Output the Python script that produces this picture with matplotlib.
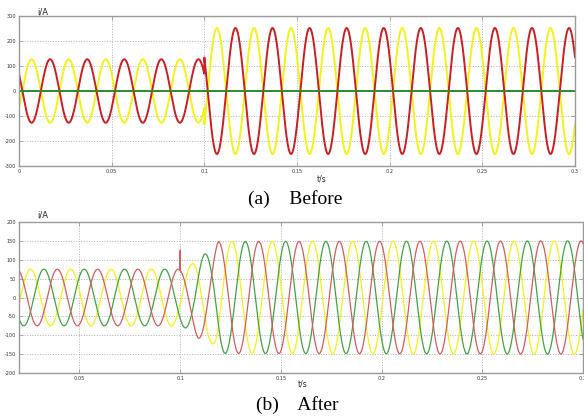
import numpy as np
import matplotlib
matplotlib.use("Agg")
import matplotlib.pyplot as plt

# grid frequency and sampling
f_grid = 50.0
n_samples = 6000

# (a) before: single-phase unbalance, two lines in antiphase, third one idle
before_t_range = [0.0, 0.3]
before_step_t = 0.1           # load change instant (s)
before_amp = [127.0, 252.0]   # amplitude before / after the step (A)
before_min_t = 0.0068         # time of first minimum of the red current (s)
before_yticks = [-300, -200, -100, 0, 100, 200, 300]
before_xticks = [0, 0.05, 0.1, 0.15, 0.2, 0.25, 0.3]
before_xlabels = ["0", "0.05", "0.1", "0.15", "0.2", "0.25", "0.3"]

# (b) after: balanced three-phase currents
after_t_range = [0.02, 0.3]
after_peak_t = 0.0057                  # first peak of the yellow phase (s)
after_shift_deg = [0, 120, 240]        # yellow, green, red
after_env_t = [0.02, 0.1, 0.1058, 0.1089, 0.1114, 0.1157, 0.119, 0.3]
after_env_amp = [75, 75, 88, 107, 114, 120, 148, 150]
after_spike_t = 0.1
after_spike_val = 125.0
after_yticks = [-200, -150, -100, -50, 0, 50, 100, 150, 200]
after_xticks = [0.05, 0.1, 0.15, 0.2, 0.25, 0.3]
after_xlabels = ["0.05", "0.1", "0.15", "0.2", "0.25", "0.3"]

c_yellow = "#f2f21a"
c_red_a = "#c81e24"
c_green_a = "#2b8a2b"
c_red_b = "#d25c60"
c_green_b = "#44a044"
c_box = "#9a9a9a"
c_grid = "#b0b0b0"


def style_axes(ax, xticks, xlabels, yticks):
    ax.set_xticks(xticks)
    ax.set_xticklabels(xlabels)
    ax.set_yticks(yticks)
    ax.set_yticklabels([str(v) for v in yticks])
    ax.tick_params(direction="in", length=3, width=0.6, color=c_box,
                   labelsize=3.6, labelcolor="#333333", pad=2,
                   top=True, right=True)
    for s in ax.spines.values():
        s.set_color(c_box)
        s.set_linewidth(1.0)
    ax.grid(True, linestyle=":", color=c_grid, linewidth=0.7)
    ax.set_axisbelow(True)


fig = plt.figure(figsize=(5.84, 4.17), dpi=100)

# ---- (a) before ----
ax1 = fig.add_axes([19 / 584, 1 - 166 / 417, 556 / 584, 150 / 417])
t1 = np.linspace(before_t_range[0], before_t_range[1], n_samples)
a1 = np.where(t1 < before_step_t, before_amp[0], before_amp[1])
w1 = np.cos(2 * np.pi * f_grid * (t1 - before_min_t))
ax1.plot(t1, a1 * w1, color=c_yellow, lw=1.4)
ax1.plot(t1, -a1 * w1, color=c_red_a, lw=1.4)
ax1.plot(t1, np.zeros_like(t1), color=c_green_a, lw=1.4)
ax1.set_xlim(before_t_range)
ax1.set_ylim(-300, 300)
style_axes(ax1, before_xticks, before_xlabels, before_yticks)

# ---- (b) after ----
ax2 = fig.add_axes([19 / 584, 1 - 373 / 417, 564 / 584, 151 / 417])
t2 = np.linspace(after_t_range[0], after_t_range[1], n_samples)
a2 = np.interp(t2, after_env_t, after_env_amp)
colors_b = [c_yellow, c_green_b, c_red_b]
for shift, col in zip(after_shift_deg, colors_b):
    y = a2 * np.cos(2 * np.pi * f_grid * (t2 - after_peak_t) - np.deg2rad(shift))
    tt = t2
    if col == c_red_b:
        k = np.searchsorted(t2, after_spike_t)
        tt = np.insert(t2, k, [after_spike_t, after_spike_t])
        y = np.insert(y, k, [after_spike_val, y[k]])
    ax2.plot(tt, y, color=col, lw=0.9)
ax2.set_xlim(after_t_range)
ax2.set_ylim(-200, 200)
style_axes(ax2, after_xticks, after_xlabels, after_yticks)

# axis names and captions
fig.text(37 / 584, 1 - 12 / 417, "i/A", fontsize=6, va="center", color="#222222")
fig.text(37 / 584, 1 - 215 / 417, "i/A", fontsize=6, va="center", color="#222222")
fig.text(322 / 584, 1 - 179 / 417, "t/s", fontsize=5.5, ha="center", va="center", color="#222222")
fig.text(303 / 584, 1 - 384 / 417, "t/s", fontsize=5.5, ha="center", va="center", color="#222222")
fig.text(295 / 584, 1 - 199 / 417, "(a)    Before", fontsize=14, family="Liberation Serif",
         ha="center", va="center")
fig.text(297 / 584, 1 - 405 / 417, "(b)    After", fontsize=14, family="Liberation Serif",
         ha="center", va="center")

fig.savefig("out.png", dpi=100)
